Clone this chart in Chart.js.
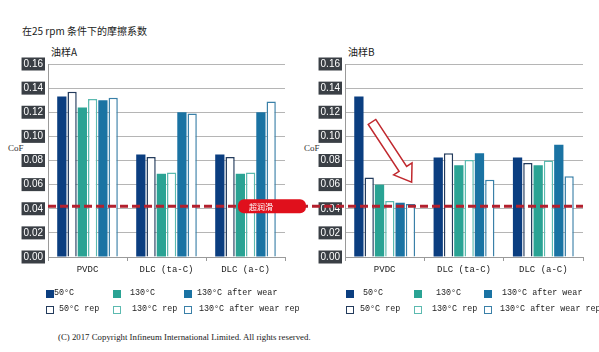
<!DOCTYPE html>
<html>
<head>
<meta charset="utf-8">
<script src="https://cdn.jsdelivr.net/npm/chart.js@4.4.0/dist/chart.umd.min.js"></script>
<style>
body{margin:0;background:#fff;width:599px;height:352px;position:relative;overflow:hidden}
canvas{position:absolute;left:0;top:44px}
.t{position:absolute;white-space:nowrap;color:#222;font-family:"Noto Sans CJK SC",sans-serif;line-height:1}
.cof{position:absolute;font:9px "Liberation Serif",serif;color:#333}
.lg{position:absolute;white-space:nowrap;font:8.4px "Liberation Mono",monospace;color:#222;line-height:11px}
.sw{position:absolute;width:8px;height:8px;box-sizing:border-box}
.copy{position:absolute;left:58px;top:332px;font:8.8px "Liberation Serif",serif;color:#222;white-space:nowrap}
</style>
</head>
<body>
<div class="t" style="left:22px;top:26px;font-size:10px">在25 rpm 条件下的摩擦系数</div>
<div class="t" style="left:51px;top:47px;font-size:10px">油样A</div>
<div class="t" style="left:348px;top:47px;font-size:10px">油样B</div>
<div class="cof" style="left:8px;top:143px">CoF</div>
<div class="cof" style="left:304px;top:143px">CoF</div>
<canvas id="chartA" width="599" height="236"></canvas>
<canvas id="chartB" width="599" height="236"></canvas>
<div id="legends"></div>
<div class="copy">(C) 2017 Copyright Infineum International Limited. All rights reserved.</div>

<script>
// categories and series
const categories = ['PVDC', 'DLC (ta-C)', 'DLC (a-C)'];
const seriesNames = ['50°C', '50°C rep', '130°C', '130°C rep', '130°C after wear', '130°C after wear rep'];

// oil A (油样A)
const a50 = [0.133, 0.085, 0.085];
const a50rep = [0.137, 0.083, 0.083];
const a130 = [0.124, 0.069, 0.069];
const a130rep = [0.131, 0.070, 0.070];
const aWear = [0.130, 0.120, 0.120];
const aWearRep = [0.132, 0.119, 0.129];

// oil B (油样B)
const b50 = [0.133, 0.0825, 0.0825];
const b50rep = [0.066, 0.086, 0.078];
const b130 = [0.060, 0.076, 0.076];
const b130rep = [0.0465, 0.0805, 0.080];
const bWear = [0.045, 0.086, 0.093];
const bWearRep = [0.044, 0.064, 0.067];

// y axis
const yMin = 0, yMax = 0.16, yStep = 0.02;
// red dashed reference line
const superLubricity = 0.042;

const fills = ['#0b3e80', '#ffffff', '#2aa394', '#ffffff', '#1a73a3', '#ffffff'];
const borders = ['#0b3e80', '#233b5c', '#2aa394', '#5cbab0', '#1a73a3', '#3a80a8'];

function makeSets(arrs) {
  return arrs.map((d, i) => ({
    label: seriesNames[i],
    data: d,
    backgroundColor: fills[i],
    borderColor: borders[i],
    borderWidth: i % 2 ? 1.5 : 0,
    categoryPercentage: 0.78,
    barPercentage: 0.9
  }))
}

// overlay: dashed line, label and arrow (drawn on the top canvas)
const overlay = {
  id: 'overlay',
  afterDatasetsDraw(chart) {
    const ctx = chart.ctx
    const y = chart.scales.y.getPixelForValue(superLubricity)
    ctx.save()
    ctx.strokeStyle = '#b3202e'
    ctx.lineWidth = 3
    ctx.setLineDash([8, 4])
    ctx.beginPath()
    ctx.moveTo(48, y)
    ctx.lineTo(chart.chartArea.right, y)
    ctx.stroke()
    ctx.setLineDash([])

    // red label box
    ctx.fillStyle = '#e0101c'
    ctx.beginPath()
    ctx.roundRect(238, y - 7, 68, 14, 6)
    ctx.fill()
    ctx.fillStyle = '#fff'
    ctx.font = '8px "Noto Sans CJK SC"'
    ctx.textBaseline = 'middle'
    ctx.fillText('超润滑', 249, y + 0.5)

    // hollow arrow
    const xs = chart.scales.x
    const cw = xs.getPixelForValue(1) - xs.getPixelForValue(0)
    const x0 = xs.getPixelForValue(0) - 0.16 * cw, y0 = chart.scales.y.getPixelForValue(0.112)
    const x1 = xs.getPixelForValue(0) + 0.34 * cw, y1 = chart.scales.y.getPixelForValue(0.062)
    const ang = Math.atan2(y1 - y0, x1 - x0)
    const len = Math.hypot(x1 - x0, y1 - y0)
    const sw = 4.5, hw = 11, hl = 16
    ctx.translate(x0, y0)
    ctx.rotate(ang)
    ctx.beginPath()
    ctx.moveTo(0, -sw)
    ctx.lineTo(len - hl, -sw)
    ctx.lineTo(len - hl, -hw)
    ctx.lineTo(len, 0)
    ctx.lineTo(len - hl, hw)
    ctx.lineTo(len - hl, sw)
    ctx.lineTo(0, sw)
    ctx.closePath()
    ctx.fillStyle = '#fff'
    ctx.fill()
    ctx.strokeStyle = '#c0282e'
    ctx.lineWidth = 1.5
    ctx.stroke()
    ctx.restore()
  }
}

function makeChart(id, arrs, padLeft, padRight, yWidth, plugins) {
  return new Chart(document.getElementById(id), {
    type: 'bar',
    data: { labels: categories, datasets: makeSets(arrs) },
    options: {
      responsive: false,
      animation: false,
      events: [],
      layout: { padding: { top: 20, left: padLeft, right: padRight, bottom: 0 } },
      plugins: { legend: { display: false }, tooltip: { enabled: false } },
      scales: {
        x: {
          afterFit: s => { s.height = 23 },
          border: { color: '#9a9a9a' },
          grid: { offset: true, drawOnChartArea: false, tickLength: 4, color: '#9a9a9a' },
          ticks: { color: '#222', font: { family: 'Liberation Mono', size: 9 }, padding: 3 }
        },
        y: {
          min: yMin, max: yMax,
          afterFit: s => { s.width = yWidth },
          border: { color: '#9a9a9a' },
          grid: { color: '#b5b5b5', drawTicks: false },
          ticks: {
            stepSize: yStep,
            callback: v => v.toFixed(2),
            color: '#fff',
            font: { family: 'Liberation Sans', size: 10, lineHeight: 1 },
            padding: 5,
            showLabelBackdrop: true,
            backdropColor: '#3a3f45',
            backdropPadding: { x: 2, y: 1.5 }
          }
        }
      }
    },
    plugins: plugins
  })
}

const chartA = makeChart('chartA', [a50, a50rep, a130, a130rep, aWear, aWearRep], 0, 314, 48, [])
const chartB = makeChart('chartB', [b50, b50rep, b130, b130rep, bWear, bWearRep], 300, 16, 45, [overlay])

// HTML legends built from the datasets
const legendCols = [
  { sw: [46, 113, 184], txt: [[54, 130, 197], [59, 132, 199]] },
  { sw: [346, 414, 484], txt: [[363, 436, 502], [360, 432, 500]] }
]
const rowsTop = [288, 304]
let html = ''
;[chartA, chartB].forEach((ch, c) => {
  ch.data.datasets.forEach((ds, i) => {
    const col = Math.floor(i / 2), row = i % 2
    const lc = legendCols[c]
    const st = row
      ? 'background:#fff;border:1.5px solid ' + ds.borderColor
      : 'background:' + ds.backgroundColor
    html += '<div class="sw" style="left:' + lc.sw[col] + 'px;top:' + (rowsTop[row] + 2) + 'px;' + st + '"></div>'
    html += '<div class="lg" style="left:' + lc.txt[row][col] + 'px;top:' + rowsTop[row] + 'px">' + ds.label + '</div>'
  })
})
document.getElementById('legends').innerHTML = html
</script>
</body>
</html>
